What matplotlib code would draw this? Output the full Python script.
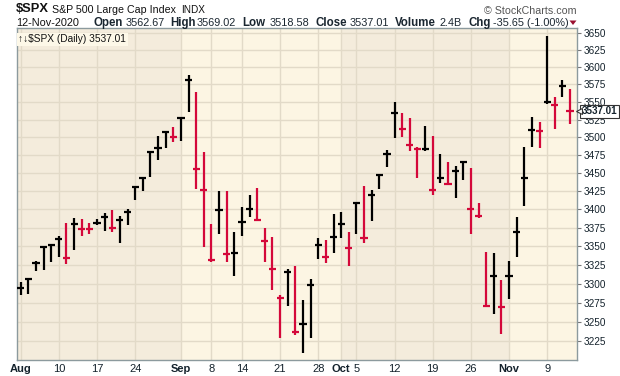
import numpy as np
import matplotlib
matplotlib.use("Agg")
import matplotlib.pyplot as plt
import matplotlib.transforms as mtransforms
from matplotlib.patches import Polygon

plt.rcParams['font.family'] = ['Liberation Sans', 'DejaVu Sans']

# Daily bars, $SPX Aug 3 - Nov 12 2020 (high / low / close)
dates = ["Aug 3", "Aug 4", "Aug 5", "Aug 6", "Aug 7",
         "Aug 10", "Aug 11", "Aug 12", "Aug 13", "Aug 14",
         "Aug 17", "Aug 18", "Aug 19", "Aug 20", "Aug 21",
         "Aug 24", "Aug 25", "Aug 26", "Aug 27", "Aug 28", "Aug 31",
         "Sep 1", "Sep 2", "Sep 3", "Sep 4",
         "Sep 8", "Sep 9", "Sep 10", "Sep 11",
         "Sep 14", "Sep 15", "Sep 16", "Sep 17", "Sep 18",
         "Sep 21", "Sep 22", "Sep 23", "Sep 24", "Sep 25",
         "Sep 28", "Sep 29", "Sep 30", "Oct 1", "Oct 2",
         "Oct 5", "Oct 6", "Oct 7", "Oct 8", "Oct 9",
         "Oct 12", "Oct 13", "Oct 14", "Oct 15", "Oct 16",
         "Oct 19", "Oct 20", "Oct 21", "Oct 22", "Oct 23",
         "Oct 26", "Oct 27", "Oct 28", "Oct 29", "Oct 30",
         "Nov 2", "Nov 3", "Nov 4", "Nov 5", "Nov 6",
         "Nov 9", "Nov 10", "Nov 11", "Nov 12"]

high = [3302.7, 3306.8, 3330.8, 3351.0, 3352.5,
        3363.3, 3381.0, 3387.9, 3387.2, 3380.9,
        3387.6, 3395.1, 3399.5, 3390.8, 3400.0,
        3432.1, 3444.2, 3481.1, 3501.4, 3509.2, 3514.8,
        3528.0, 3588.1, 3564.9, 3479.2,
        3380.0, 3424.8, 3425.6, 3369.0,
        3402.9, 3419.5, 3428.9, 3375.2, 3362.3,
        3285.6, 3320.3, 3323.4, 3278.7, 3306.9,
        3360.7, 3357.9, 3393.6, 3397.2, 3369.1,
        3409.6, 3431.6, 3426.3, 3447.3, 3482.3,
        3549.9, 3534.0, 3527.9, 3485.7, 3515.5,
        3502.4, 3476.9, 3464.9, 3460.5, 3466.5,
        3457.3, 3409.5, 3342.5, 3341.1, 3304.9,
        3330.1, 3389.5, 3486.3, 3529.1, 3521.6,
        3646.0, 3557.2, 3581.2, 3569.0]

low = [3284.5, 3286.4, 3317.4, 3318.1, 3328.7,
       3335.4, 3326.4, 3345.2, 3363.4, 3367.2,
       3379.2, 3370.2, 3369.7, 3354.7, 3379.3,
       3413.1, 3425.8, 3444.2, 3468.4, 3484.3, 3493.3,
       3494.6, 3535.2, 3427.4, 3349.6,
       3329.3, 3366.8, 3329.3, 3310.5,
       3363.6, 3389.3, 3384.5, 3328.8, 3292.4,
       3229.1, 3271.0, 3232.6, 3209.5, 3228.4,
       3332.9, 3327.5, 3340.5, 3361.4, 3323.7,
       3367.3, 3354.5, 3384.6, 3428.2, 3458.1,
       3499.6, 3500.9, 3480.6, 3443.9, 3480.5,
       3419.9, 3435.7, 3433.1, 3415.3, 3440.5,
       3366.1, 3388.7, 3268.9, 3259.8, 3233.9,
       3279.7, 3336.3, 3405.2, 3485.7, 3484.3,
       3547.5, 3511.9, 3557.0, 3518.6]

close = [3294.6, 3306.5, 3327.8, 3349.2, 3351.3,
         3360.5, 3333.7, 3380.4, 3373.4, 3372.9,
         3382.0, 3389.8, 3374.9, 3385.5, 3397.2,
         3431.3, 3443.6, 3478.7, 3484.6, 3508.0, 3500.3,
         3526.7, 3580.8, 3455.1, 3427.0,
         3331.8, 3399.0, 3339.2, 3341.0,
         3383.5, 3401.2, 3385.5, 3357.0, 3319.5,
         3281.1, 3315.6, 3236.9, 3246.6, 3298.5,
         3351.6, 3335.5, 3363.0, 3380.8, 3348.4,
         3408.6, 3361.0, 3419.4, 3446.8, 3477.1,
         3534.2, 3511.9, 3488.7, 3483.3, 3483.8,
         3426.9, 3443.1, 3435.6, 3453.5, 3465.4,
         3401.0, 3390.7, 3271.0, 3310.1, 3270.0,
         3310.2, 3369.2, 3443.4, 3510.5, 3509.4,
         3550.5, 3545.5, 3572.7, 3537.01]
prev_close = 3271.1  # Jul 31 close, sets the colour of the first bar

tick_dates = ["Aug 3", "Aug 10", "Aug 17", "Aug 24", "Sep 1", "Sep 8", "Sep 14",
              "Sep 21", "Sep 28", "Oct 1", "Oct 5", "Oct 12", "Oct 19", "Oct 26",
              "Nov 2", "Nov 9"]
tick_labels = ["Aug", "10", "17", "24", "Sep", "8", "14", "21", "28", "Oct", "5",
               "12", "19", "26", "Nov", "9"]
month_labels = ["Aug", "Sep", "Oct", "Nov"]
price_ticks = list(range(3225, 3651, 25))

x = np.arange(len(dates))
prev = np.r_[prev_close, close[:-1]]
colors = np.where(np.array(close) >= prev, "black", "#d4083a")

TXT = "#14222c"
fig = plt.figure(figsize=(6.2, 3.76), dpi=100)
ax = fig.add_axes([16.5 / 620, 16 / 376, 560.2 / 620, 331.7 / 376])

ax.set_facecolor("#fcf5e3")
# darker shading for Aug and Oct
ax.axvspan(-1, dates.index("Sep 1"), color="#f4ecdc", zorder=0, lw=0)
ax.axvspan(dates.index("Oct 1"), dates.index("Nov 2"), color="#f4ecdc", zorder=0, lw=0)

ax.set_yscale("log")
ax.set_ylim(3200.5, 3656.6)
ax.set_xlim(-0.55, 72.87)

ax.vlines(x, low, high, colors=colors, lw=1.6, zorder=3)
ax.hlines(close, x - 0.47, x + 0.47, colors=colors, lw=1.6, zorder=3)

tick_pos = [dates.index(d) for d in tick_dates]
ax.set_xticks(tick_pos)
ax.set_xticklabels(tick_labels)
for lab in ax.get_xticklabels():
    lab.set_color(TXT)
    lab.set_fontsize(8)
    if lab.get_text() in month_labels:
        lab.set_fontweight("bold")
ax.tick_params(axis="x", length=0, pad=3)

ax.yaxis.tick_right()
ax.yaxis.set_minor_locator(matplotlib.ticker.NullLocator())
ax.set_yticks(price_ticks)
ax.set_yticklabels([str(p) for p in price_ticks])
ax.yaxis.set_minor_formatter(matplotlib.ticker.NullFormatter())
ax.tick_params(axis="y", which="major", length=3, width=0.8, color="#777777",
               labelsize=7.2, labelcolor=TXT, pad=2)

ax.grid(True, color="#e2dac8", lw=1, zorder=1)
ax.set_axisbelow(True)
for s in ax.spines.values():
    s.set_color("#8c9a9e")
    s.set_linewidth(1)

# last price box on the right axis
ax.annotate(f"{close[-1]:.2f}", xy=(1.0, close[-1]), xycoords=("axes fraction", "data"),
            xytext=(3.6, 0), textcoords="offset points", ha="left", va="center",
            fontsize=7.1, fontweight="bold", color=TXT, zorder=6,
            bbox=dict(boxstyle="square,pad=0.15", fc="white", ec="#333333", lw=0.8),
            annotation_clip=False)
pointer = mtransforms.offset_copy(ax.get_yaxis_transform(), fig=fig, x=2.6, y=0, units="dots")
ax.plot([1.0], [close[-1]], marker="<", ms=5, mfc="white", mec="#333333", mew=0.8,
        transform=pointer, clip_on=False, zorder=7)

# legend in the top-left corner
ax.text(0.003, 0.982, "↑↓$SPX (Daily) " + f"{close[-1]:.2f}", transform=ax.transAxes,
        ha="left", va="top", fontsize=7.3, color="#111111",
        bbox=dict(boxstyle="square,pad=0.15", fc="#fdf8e8", ec="none"), zorder=5)

# header
def fx(px):
    return px / 620

def fy(py):
    return 1 - py / 376

fig.text(fx(15.5), fy(9.5), "$SPX", fontsize=9.3, fontweight="bold", color="#111111", va="center")
fig.text(fx(52.5), fy(9.8), "S&P 500 Large Cap Index", fontsize=7.7, color="#111111", va="center")
fig.text(fx(181.5), fy(10), "INDX", fontsize=7.2, color="#111111", va="center")
fig.text(fx(576.7), fy(10.7), "© StockCharts.com", fontsize=7.7, color="#555555",
         va="center", ha="right")

fig.text(fx(16), fy(23.3), "12-Nov-2020", fontsize=7.8, color="#111111", va="center")
parts = [(94, "Open", True), (125.7, "3562.67", False),
         (170.7, "High", True), (196.7, "3569.02", False),
         (242.3, "Low", True), (270, "3518.58", False),
         (315, "Close", True), (349.3, "3537.01", False),
         (395, "Volume", True), (440, "2.4B", False),
         (468.3, "Chg", True), (492.7, "-35.65 (-1.00%)", False)]
for px, s, bold in parts:
    fig.text(fx(px), fy(23.3), s, fontsize=8.3 if bold else 7.8,
             fontweight="bold" if bold else "normal", color="#1a2630", va="center")
fig.patches.append(Polygon([[fx(569.5), fy(20.5)], [fx(576.5), fy(20.5)], [fx(573), fy(25)]],
                           closed=True, transform=fig.transFigure, fc="#9a1030", ec="none"))

fig.savefig("out.png", dpi=100)
